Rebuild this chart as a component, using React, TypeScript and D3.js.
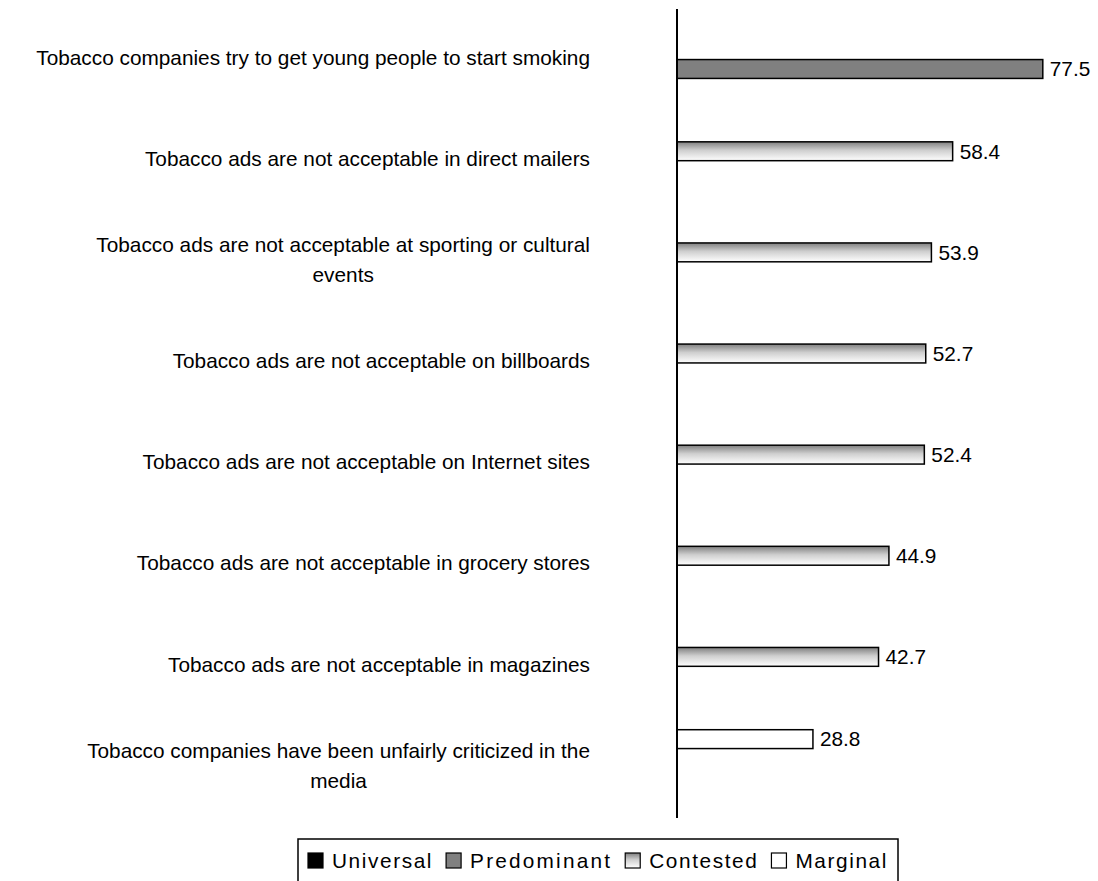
import React, { useEffect, useRef } from "react";
import * as d3 from "d3";

const categories = [
  "Tobacco companies try to get young people to start smoking",
  "Tobacco ads are not acceptable in direct mailers",
  "Tobacco ads are not acceptable at sporting or cultural events",
  "Tobacco ads are not acceptable on billboards",
  "Tobacco ads are not acceptable on Internet sites",
  "Tobacco ads are not acceptable in grocery stores",
  "Tobacco ads are not acceptable in magazines",
  "Tobacco companies have been unfairly criticized in the media",
];
const values = [77.5, 58.4, 53.9, 52.7, 52.4, 44.9, 42.7, 28.8];
const seriesOf = [
  "Predominant",
  "Contested",
  "Contested",
  "Contested",
  "Contested",
  "Contested",
  "Contested",
  "Marginal",
];
const seriesNames = ["Universal", "Predominant", "Contested", "Marginal"];
// order of series within a category band, top to bottom
const seriesStack = ["Marginal", "Contested", "Predominant", "Universal"];

const FONT = "'Liberation Sans', Arial, sans-serif";
const FS = 20.8;
const W = 1098;
const H = 881;

const fillFor = (s: string) =>
  s === "Universal" ? "#000000" : s === "Predominant" ? "#808080" : s === "Contested" ? "url(#contestedGrad)" : "#ffffff";

export default function App() {
  const ref = useRef<SVGSVGElement | null>(null);

  useEffect(() => {
    const svg = d3.select(ref.current);
    svg.selectAll("*").remove();

    const defs = svg.append("defs");
    const g = defs
      .append("linearGradient")
      .attr("id", "contestedGrad")
      .attr("x1", 0)
      .attr("y1", 0)
      .attr("x2", 0)
      .attr("y2", 1);
    g.append("stop").attr("offset", "0%").attr("stop-color", "#7f7f7f");
    g.append("stop").attr("offset", "45%").attr("stop-color", "#cfcfcf");
    g.append("stop").attr("offset", "100%").attr("stop-color", "#ffffff");

    const axisX = 677;
    const y = d3.scaleBand<string>().domain(categories).range([9, 818]).paddingInner(0).paddingOuter(0);
    const inner = d3
      .scaleBand<string>()
      .domain(seriesStack)
      .range([0, y.bandwidth()])
      .paddingInner(0)
      .paddingOuter(0.68);
    const x = d3.scaleLinear().domain([0, 80]).range([axisX, axisX + 80 * 4.72]);

    // bars
    categories.forEach((c, i) => {
      const s = seriesOf[i];
      const by = (y(c) as number) + (inner(s) as number);
      const bh = inner.bandwidth();
      svg
        .append("rect")
        .attr("x", x(0))
        .attr("y", by)
        .attr("width", x(values[i]) - x(0))
        .attr("height", bh)
        .attr("fill", fillFor(s))
        .attr("stroke", "#000")
        .attr("stroke-width", 1.5);
      svg
        .append("text")
        .attr("x", x(values[i]) + 7)
        .attr("y", by + bh / 2)
        .attr("dy", "0.35em")
        .attr("font-family", FONT)
        .attr("font-size", FS)
        .attr("fill", "#000")
        .text(values[i].toFixed(1));
    });

    // axis line
    svg
      .append("line")
      .attr("x1", axisX)
      .attr("x2", axisX)
      .attr("y1", y.range()[0])
      .attr("y2", y.range()[1])
      .attr("stroke", "#000")
      .attr("stroke-width", 2);

    // category labels with wrapping
    const rightEdge = 590;
    const maxW = 557;
    const lineH = 30;
    const measure = svg
      .append("text")
      .attr("font-family", FONT)
      .attr("font-size", FS)
      .attr("visibility", "hidden");
    const mw = (t: string) => {
      measure.text(t);
      return (measure.node() as SVGTextElement).getComputedTextLength();
    };
    categories.forEach((c) => {
      const words = c.split(" ");
      const lines: string[] = [];
      let cur = "";
      words.forEach((w) => {
        const t = cur ? cur + " " + w : w;
        if (mw(t) > maxW && cur) {
          lines.push(cur);
          cur = w;
        } else cur = t;
      });
      if (cur) lines.push(cur);
      const blockW = Math.max(...lines.map(mw));
      const cx = rightEdge - blockW / 2;
      const cy = (y(c) as number) + y.bandwidth() / 2 - 2;
      const t = svg
        .append("text")
        .attr("font-family", FONT)
        .attr("font-size", FS)
        .attr("text-anchor", "middle")
        .attr("fill", "#000");
      lines.forEach((l, k) => {
        t.append("tspan")
          .attr("x", cx)
          .attr("y", cy + (k - (lines.length - 1) / 2) * lineH)
          .attr("dy", "0.35em")
          .text(l);
      });
    });
    measure.remove();

    // legend
    const lg = svg.append("g");
    lg.append("rect")
      .attr("x", 298)
      .attr("y", 839)
      .attr("width", 600)
      .attr("height", 50)
      .attr("fill", "#fff")
      .attr("stroke", "#000")
      .attr("stroke-width", 1.5);
    let lx = 308;
    const sq = 15;
    const ly = 853;
    seriesNames.forEach((s) => {
      lg.append("rect")
        .attr("x", lx)
        .attr("y", ly)
        .attr("width", sq)
        .attr("height", sq)
        .attr("fill", fillFor(s))
        .attr("stroke", "#000")
        .attr("stroke-width", 1.2);
      const tt = lg
        .append("text")
        .attr("x", lx + sq + 9)
        .attr("y", ly + sq / 2)
        .attr("dy", "0.36em")
        .attr("font-family", FONT)
        .attr("font-size", FS)
        .attr("letter-spacing", s === "Predominant" ? 2.2 : 1.6)
        .attr("fill", "#000")
        .text(s);
      const tw = (tt.node() as SVGTextElement).getComputedTextLength();
      lx = lx + sq + 9 + tw + 13;
    });
  }, []);

  return (
    <svg
      ref={ref}
      width={W}
      height={H}
      style={{ position: "absolute", left: 0, top: 0, background: "#fff", display: "block" }}
    />
  );
}
